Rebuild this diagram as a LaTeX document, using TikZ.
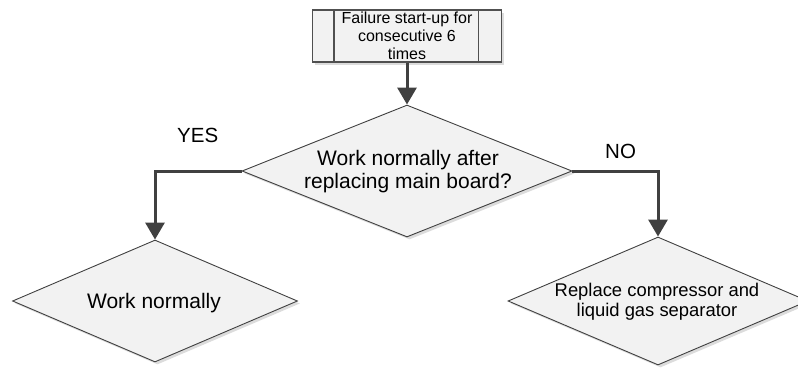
\documentclass[tikz,border=0pt]{standalone}
\usepackage{fontspec}
\setmainfont{Liberation Sans}
\usetikzlibrary{shapes.geometric,arrows.meta,shadows}
\definecolor{ln}{HTML}{404040}
\definecolor{bl}{HTML}{505050}
\definecolor{fl}{HTML}{F2F2F2}
\definecolor{sh}{HTML}{DCDCDC}
\begin{document}
\begin{tikzpicture}[x=1pt,y=-1pt,
  shp/.style={draw=ln, line width=0.9pt, fill=fl,
    drop shadow={shadow xshift=2.5pt, shadow yshift=-2.5pt, fill=sh, opacity=1}},
  dia/.style={shp, diamond, inner sep=0pt, aspect=1},
  procbox/.style={shp, draw=bl, line width=1.2pt, rectangle, inner sep=0pt, align=center,
    minimum width=189pt, minimum height=52pt, font=\fontsize{16pt}{17.8pt}\selectfont},
  inner/.style={draw=bl, line width=1.2pt},
  arr/.style={draw=ln, line width=3pt, -{Triangle[length=17pt,width=19pt]}},
  txt/.style={inner sep=0pt, align=center},
  lbl/.style={inner sep=0pt, anchor=base west, font=\fontsize{20.5pt}{22pt}\selectfont}]
\useasboundingbox (0,0) rectangle (798,368);

% top process box
\node[procbox] (box) at (407,36) {Failure start-up for\\consecutive 6\\times};
\draw[inner] ([xshift=22pt]box.north west) -- ([xshift=22pt]box.south west);
\draw[inner] ([xshift=-24pt]box.north east) -- ([xshift=-24pt]box.south east);

% decision diamonds
\node[dia, minimum width=330pt, minimum height=132pt] (d1) at (407,171) {};
\node[txt, font=\fontsize{21pt}{23pt}\selectfont] (t1) at (408,172) {Work normally after\\replacing main board?};

\node[dia, minimum width=285pt, minimum height=122pt] (d2) at (155,301) {};
\node[txt, font=\fontsize{21pt}{23pt}\selectfont] (t2) at (154,303.5) {Work normally};

\node[dia, minimum width=300pt, minimum height=128pt] (d3) at (658,301) {};
\node[txt, font=\fontsize{18.4pt}{20pt}\selectfont] (t3) at (657,301.5) {Replace compressor and\\liquid gas separator};

% connectors
\draw[arr] (box.south) -- (d1.north);
\draw[arr] (d1.west) -| (d2.north);
\draw[arr] (d1.east) -| (d3.north);

% branch labels
\node[lbl] (yes) at (177,142.7) {YES};
\node[lbl] (no) at (605,158.3) {NO};
\end{tikzpicture}
\end{document}
